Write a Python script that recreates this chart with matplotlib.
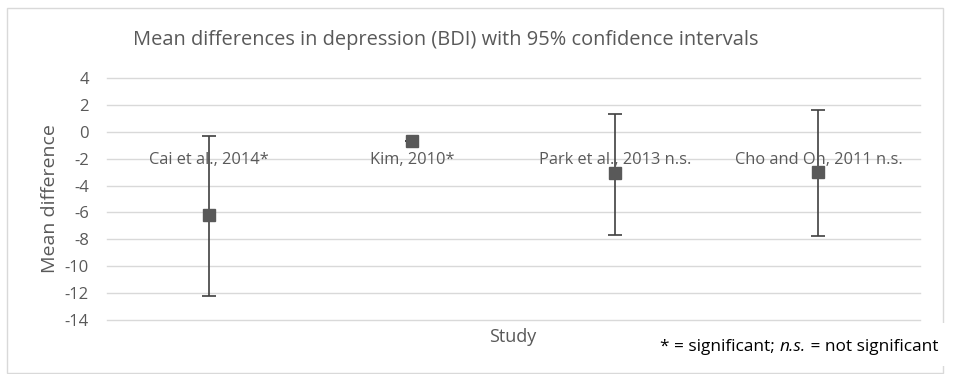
import matplotlib
matplotlib.use("Agg")
import matplotlib.pyplot as plt
from matplotlib.patches import Rectangle

studies = ["Cai et al., 2014*", "Kim, 2010*", "Park et al., 2013 n.s.", "Cho and Oh, 2011 n.s."]
means = [-6.2, -0.7, -3.1, -3.0]
ci_low = [-12.2, -0.7, -7.7, -7.75]
ci_high = [-0.3, -0.7, 1.3, 1.6]
label_y = [-2.1, -2.1, -2.1, -2.1]
yticks = [-14, -12, -10, -8, -6, -4, -2, 0, 2, 4]

FONT = "Open Sans"
GRAY = "#595959"

W, H = 956, 374
fig = plt.figure(figsize=(W / 100, H / 100), dpi=100)
fig.patch.set_facecolor("white")

# outer chart border
fig.add_artist(Rectangle((7 / W, 1 - 373 / H), (943 - 7) / W, (373 - 8) / H,
                         transform=fig.transFigure, fill=False,
                         edgecolor="#d9d9d9", linewidth=1))
# footnote overlaps the right border
fig.add_artist(Rectangle((938 / W, 1 - 366 / H), 10 / W, 43 / H,
                         transform=fig.transFigure, facecolor="white",
                         edgecolor="none"))

ax = fig.add_axes([107 / W, 1 - 320 / H, (920 - 107) / W, (320 - 78) / H])
ax.set_xlim(0.5, len(studies) + 0.5)
ax.set_ylim(-14, 4)
for s in ax.spines.values():
    s.set_visible(False)
ax.set_yticks(yticks)
ax.set_yticklabels([str(t) for t in yticks], fontfamily=FONT, fontsize=12, color=GRAY)
ax.tick_params(axis="y", length=0, pad=13)
ax.set_xticks([])
ax.grid(axis="y", color="#d9d9d9", linewidth=1)
for gl in ax.yaxis.get_gridlines():
    gl.set_clip_on(False)
ax.set_axisbelow(True)

x = list(range(1, len(studies) + 1))
yerr_lo = [m - l for m, l in zip(means, ci_low)]
yerr_hi = [h - m for m, h in zip(means, ci_high)]
ax.errorbar(x, means, yerr=[yerr_lo, yerr_hi], fmt="none", ecolor="#404040",
            elinewidth=1.2, capsize=5, capthick=1.2, zorder=3)
ax.plot(x, means, linestyle="none", marker="s", markersize=8,
        color=GRAY, zorder=4)

for xi, yi, lab in zip(x, label_y, studies):
    ax.text(xi, yi, lab, ha="center", va="center", fontfamily=FONT,
            fontsize=11.8, color=GRAY, zorder=5)

ax.set_ylabel("Mean difference", fontfamily=FONT, fontsize=14, color=GRAY, labelpad=4)

fig.text(446 / W, 1 - 40 / H,
         "Mean differences in depression (BDI) with 95% confidence intervals",
         ha="center", va="center", fontfamily=FONT, fontsize=14.4, color=GRAY)
fig.text(513 / W, 1 - 337 / H, "Study", ha="center", va="center",
         fontfamily=FONT, fontsize=13, color=GRAY)

# footnote with italic parts
renderer = fig.canvas.get_renderer()
parts = [("* = significant; ", "normal"), ("n.s.", "italic"), (" = not significant", "normal")]
xpos = 660 / W
for txt, style in parts:
    t = fig.text(xpos, 1 - 347 / H, txt, ha="left", va="center", fontfamily=FONT,
                 fontsize=12.4, fontstyle=style, color="black")
    bb = t.get_window_extent(renderer=renderer)
    xpos = bb.x1 / W

fig.savefig("out.png", dpi=100, facecolor="white")
